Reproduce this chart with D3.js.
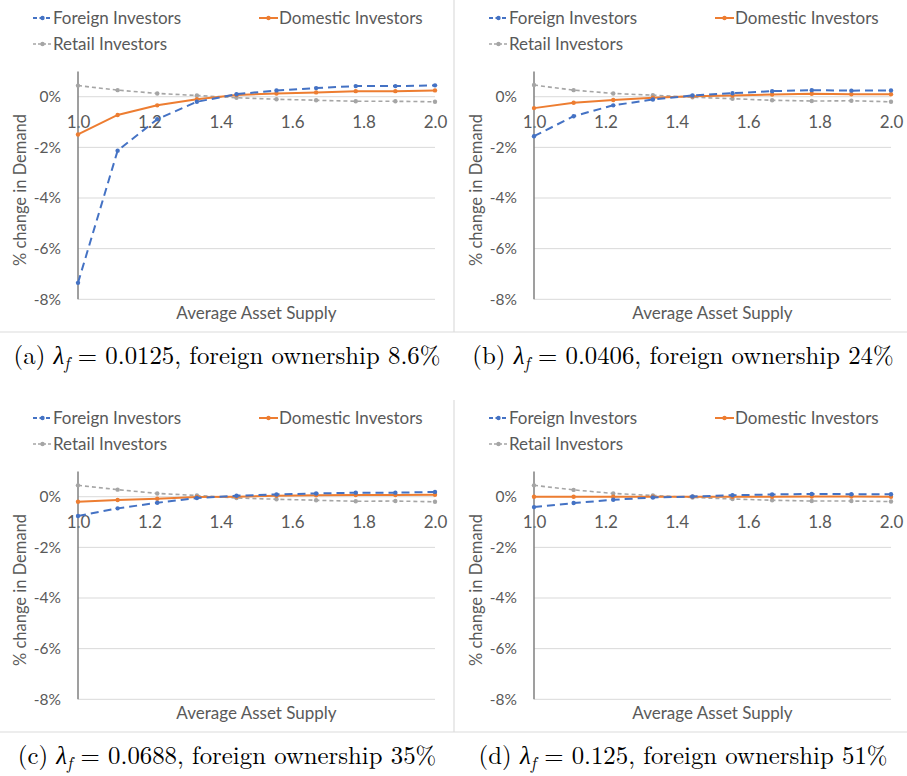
<!DOCTYPE html>
<html>
<head>
<meta charset="utf-8">
<script src="https://cdn.jsdelivr.net/npm/d3@7"></script>
<style>
  body { margin: 0; background: #fff; }
  svg { display: block; }
</style>
</head>
<body>
<svg id="chart"></svg>
<script>
// average asset supply, ten points from 1.0 to 2.0
const supply = [1.0, 1.111, 1.222, 1.333, 1.444, 1.556, 1.667, 1.778, 1.889, 2.0];
const xTicks = [1.0, 1.2, 1.4, 1.6, 1.8, 2.0];
const yTicks = [0, -2, -4, -6, -8];

// % change in demand
const foreignA  = [-7.35, -2.13, -0.89, -0.2, 0.1, 0.25, 0.34, 0.42, 0.42, 0.45];
const domesticA = [-1.49, -0.72, -0.34, -0.1, 0.07, 0.13, 0.17, 0.22, 0.22, 0.25];
const retailA   = [0.44, 0.26, 0.13, 0.05, -0.04, -0.1, -0.14, -0.18, -0.18, -0.2];

const foreignB  = [-1.56, -0.77, -0.34, -0.11, 0.05, 0.14, 0.22, 0.26, 0.24, 0.25];
const domesticB = [-0.45, -0.24, -0.13, -0.04, 0.02, 0.05, 0.09, 0.12, 0.1, 0.1];
const retailB   = [0.46, 0.26, 0.13, 0.06, -0.02, -0.08, -0.14, -0.17, -0.16, -0.2];

const foreignC  = [-0.76, -0.46, -0.24, -0.05, 0.04, 0.09, 0.13, 0.16, 0.16, 0.19];
const domesticC = [-0.2, -0.13, -0.08, -0.01, 0.0, 0.04, 0.06, 0.07, 0.07, 0.08];
const retailC   = [0.45, 0.28, 0.13, 0.05, -0.05, -0.1, -0.14, -0.18, -0.17, -0.2];

const foreignD  = [-0.41, -0.25, -0.12, -0.03, 0.01, 0.06, 0.09, 0.11, 0.1, 0.1];
const domesticD = [0.0, 0.0, 0.0, 0.0, 0.0, 0.0, 0.0, 0.01, 0.01, 0.0];
const retailD   = [0.45, 0.27, 0.13, 0.05, -0.03, -0.09, -0.14, -0.17, -0.17, -0.19];

const seriesNames = ["Foreign Investors", "Domestic Investors", "Retail Investors"];
const panelLetters = ["a", "b", "c", "d"];
const lambdas = ["0.0125", "0.0406", "0.0688", "0.125"];
const ownership = ["8.6%", "24%", "35%", "51%"];

const panelSeries = [
  [foreignA, domesticA, retailA],
  [foreignB, domesticB, retailB],
  [foreignC, domesticC, retailC],
  [foreignD, domesticD, retailD]
];

const colors = ["#4472C4", "#ED7D31", "#A5A5A5"];
const dashes = ["8,5", null, "4,3"];
const widths = [2, 2, 1.6];

const width = 907, height = 776;
const textFont = "Lato, 'Open Sans', sans-serif";
const textColor = "#595959";

const svg = d3.select("#chart")
    .attr("width", width)
    .attr("height", height);

// panel dividers
svg.append("g")
    .attr("stroke", "#dcdcdc")
    .attr("stroke-width", 1.2)
  .selectAll("line")
  .data([[0, 332, width, 332], [0, 732, width, 732], [454, 0, 454, 332], [454, 400, 454, 732]])
  .enter()
  .append("line")
    .attr("x1", d => d[0]).attr("y1", d => d[1])
    .attr("x2", d => d[2]).attr("y2", d => d[3]);

panelSeries.forEach((series, i) => {
  const ox = (i % 2) * 456;
  const oy = Math.floor(i / 2) * 400;

  const g = svg.append("g").attr("transform", `translate(${ox}, ${oy})`);

  const xScale = d3.scaleLinear().domain([1, 2]).range([78, 435]);
  const yScale = d3.scaleLinear().domain([-8, 1]).range([299.3, 71.4]);

  // gridlines
  g.append("g")
    .selectAll("line")
    .data(yTicks)
    .enter()
    .append("line")
      .attr("x1", xScale(1))
      .attr("x2", xScale(2))
      .attr("y1", d => yScale(d))
      .attr("y2", d => yScale(d))
      .attr("stroke", "#d9d9d9")
      .attr("stroke-width", 1);

  // y axis with labels
  let yAxis = d3.axisLeft(yScale)
      .tickValues(yTicks)
      .tickSize(0)
      .tickPadding(17)
      .tickFormat(d => d + "%");

  const ya = g.append("g")
      .attr("transform", `translate(${xScale(1)}, 0)`)
      .call(yAxis);
  ya.select(".domain").remove();
  ya.selectAll("text")
      .attr("fill", textColor)
      .style("font-family", textFont)
      .style("font-size", "15.5px");

  // x labels sit beside the 0% line
  let xAxis = d3.axisBottom(xScale)
      .tickValues(xTicks)
      .tickSize(0)
      .tickPadding(0)
      .tickFormat(d3.format(".1f"));

  const xa = g.append("g")
      .attr("transform", `translate(0, ${yScale(0) + 25})`)
      .call(xAxis);
  xa.select(".domain").remove();
  xa.selectAll("text")
      .attr("dy", "0.35em")
      .attr("fill", textColor)
      .style("font-family", textFont)
      .style("font-size", "17px");

  g.append("line")
      .attr("x1", xScale(1)).attr("x2", xScale(1))
      .attr("y1", yScale(1)).attr("y2", yScale(-8))
      .attr("stroke", "#7f7f7f")
      .attr("stroke-width", 1.5);

  // lines and markers
  const line = d3.line()
      .x((d, j) => xScale(supply[j]))
      .y(d => yScale(d));

  [2, 1, 0].forEach(k => {
    g.append("path")
        .datum(series[k])
        .attr("d", line)
        .attr("fill", "none")
        .attr("stroke", colors[k])
        .attr("stroke-width", widths[k])
        .attr("stroke-dasharray", dashes[k]);

    g.append("g")
      .selectAll("circle")
      .data(series[k])
      .enter()
      .append("circle")
        .attr("cx", (d, j) => xScale(supply[j]))
        .attr("cy", d => yScale(d))
        .attr("r", 2.2)
        .attr("fill", colors[k]);
  });

  // axis titles
  g.append("text")
      .attr("transform", "rotate(-90)")
      .attr("x", -190)
      .attr("y", 20)
      .attr("dy", "0.35em")
      .style("text-anchor", "middle")
      .style("font-family", textFont)
      .style("font-size", "16.5px")
      .attr("fill", textColor)
      .text("% change in Demand");

  g.append("text")
      .attr("x", (xScale(1) + xScale(2)) / 2)
      .attr("y", 313)
      .attr("dy", "0.35em")
      .style("text-anchor", "middle")
      .style("font-family", textFont)
      .style("font-size", "17px")
      .attr("fill", textColor)
      .text("Average Asset Supply");

  // legend
  const legendPos = [[33, 18], [259, 18], [33, 44]];
  seriesNames.forEach((name, k) => {
    const lg = g.append("g").attr("transform", `translate(${legendPos[k][0]}, ${legendPos[k][1]})`);
    lg.append("line")
        .attr("x1", 0).attr("x2", 19)
        .attr("stroke", colors[k])
        .attr("stroke-width", widths[k])
        .attr("stroke-dasharray", k === 0 ? "4,2.5" : dashes[k] ? "3,2" : null);
    lg.append("circle")
        .attr("cx", 9.5)
        .attr("r", 2.2)
        .attr("fill", colors[k]);
    lg.append("text")
        .attr("x", 20)
        .attr("dy", "0.35em")
        .style("font-family", textFont)
        .style("font-size", "17px")
        .attr("fill", textColor)
        .text(name);
  });

  // caption
  const cap = g.append("text")
      .attr("x", 227)
      .attr("y", 364)
      .style("text-anchor", "middle")
      .style("font-family", "'Latin Modern Roman', 'CMU Serif', 'Liberation Serif', serif")
      .style("font-size", "24.8px")
      .attr("fill", "#000");
  cap.append("tspan").text(`(${panelLetters[i]}) `);
  cap.append("tspan").style("font-style", "italic").text("λ");
  cap.append("tspan").style("font-style", "italic").style("font-size", "17px").attr("dy", 5).text("f");
  cap.append("tspan").attr("dy", -5).text(` = ${lambdas[i]}, foreign ownership ${ownership[i]}`);
});
</script>
</body>
</html>
